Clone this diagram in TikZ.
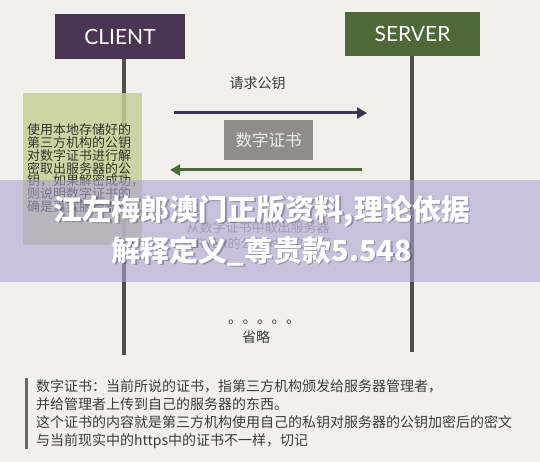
\documentclass[tikz,border=0pt]{standalone}
\usepackage{fontspec}
\setmainfont{Lato}
\newfontfamily\cjk{Noto Sans CJK SC}
\usetikzlibrary{arrows.meta}
\definecolor{bg}{RGB}{241,240,236}
\definecolor{clientc}{RGB}{74,54,82}
\definecolor{serverc}{RGB}{79,104,55}
\definecolor{lifec}{RGB}{84,76,74}
\definecolor{notec}{RGB}{198,206,152}
\definecolor{certc}{RGB}{142,141,139}
\definecolor{arrowp}{RGB}{62,52,80}
\definecolor{arrowg}{RGB}{78,106,58}
\definecolor{bandc}{RGB}{172,162,210}
\definecolor{txtc}{RGB}{60,60,58}
\definecolor{notetxt}{RGB}{52,54,40}
\tikzset{
  actor/.style={minimum width=130pt, minimum height=45pt, inner sep=0pt, text=white,
    font=\fontsize{21}{21}\selectfont},
  life/.style={lifec, line width=4pt},
  msgp/.style={arrowp, line width=3pt, -{Triangle[length=10pt,width=11pt]}},
  msgg/.style={arrowg, line width=3pt, -{Triangle[length=10pt,width=11pt]}},
  lbl/.style={inner sep=0pt, text=txtc, font=\cjk\fontsize{14}{14}\selectfont},
  bandtxt/.style={inner sep=0pt, text=white, font=\cjk\bfseries\fontsize{29}{29}\selectfont},
  shadowtxt/.style={inner sep=0pt, text=black, opacity=0.25, font=\cjk\bfseries\fontsize{29}{29}\selectfont},
  hidden/.style={inner sep=0pt, text=txtc!55, font=\cjk\fontsize{13}{13}\selectfont}
}
\begin{document}
\begin{tikzpicture}[x=1pt,y=-1pt]
\fill[bg] (0,0) rectangle (540,462);
\useasboundingbox (0,0) rectangle (540,462);

% actors
\node[actor, fill=clientc] (client) at (120,36.5) {CLIENT};
\node[actor, fill=serverc, minimum width=135pt, minimum height=44pt] (server) at (412.5,34) {SERVER};

% lifelines
\coordinate (cend) at (124,355);
\coordinate (send) at (412,352);
\draw[life] (client.south -| cend) -- (cend);
\draw[life] (server.south -| send) -- (send);

% note box
\node[fill=notec, fill opacity=0.85, anchor=north west, minimum width=119pt, minimum height=152pt, inner sep=0pt] (note) at (23,93) {};
\node[anchor=north west, align=left, inner sep=0pt, text=notetxt,
  font=\cjk\fontsize{13}{12.8}\selectfont] (notetext) at (27,123.5)
  {使用本地存储好的\\第三方机构的公钥\\对数字证书进行解\\密取出服务器的公\\钥，如果解密成功，\\则说明数字证书的\\确是真实服务器的};

% messages
\node[lbl] (req) at (257.5,83) {请求公钥};
\coordinate (a1s) at (174,113);
\coordinate (a1e) at (367,113);
\draw[msgp] (a1s) -- (a1e);

\node[fill=certc, minimum width=89pt, minimum height=40pt, inner sep=0pt, text={rgb,255:red,236;green,236;blue,234},
  font=\cjk\fontsize{16.5}{16.5}\selectfont] (cert) at (268.5,140) {数字证书};

\coordinate (a2s) at (362,170);
\coordinate (a2e) at (170,170);
\draw[msgg] (a2s) -- (a2e);

% partly hidden text under band
\node[hidden] (h1) at (258,228) {从数字证书中取出服务器};
\node[hidden] (h2) at (256,244) {SERVER的公钥对明文加密};

% overlay band
\fill[bandc, opacity=0.6] (0,180) rectangle (540,282);
\node[shadowtxt] (s1) at (263.5,212.5) {江左梅郎澳门正版资料,理论依据};
\node[shadowtxt] (s2) at (263.5,252.5) {解释定义\_尊贵款5.548};
\node[bandtxt] (w1) at (262,211) {江左梅郎澳门正版资料,理论依据};
\node[bandtxt] (w2) at (262,251) {解释定义\_尊贵款5.548};

% omitted
\node[anchor=base west, inner sep=0pt, text=txtc, font=\cjk\fontsize{14.5}{14.5}\selectfont] (dots) at (228,323) {。。。。。};
\node[lbl] (omit) at (256,337) {省略};

% bottom explanation
\coordinate (bartop) at (26,378);
\coordinate (barbot) at (26,449);
\draw[lifec!85, line width=3pt] (bartop) -- (barbot);
\node[anchor=north west, align=left, inner sep=0pt, text=txtc,
  font=\cjk\fontsize{14}{18.3}\selectfont] (expl) at (36,379)
  {数字证书：当前所说的证书，指第三方机构颁发给服务器管理者，\\并给管理者上传到自己的服务器的东西。\\这个证书的内容就是第三方机构使用自己的私钥对服务器的公钥加密后的密文\\与当前现实中的https中的证书不一样，切记};
\end{tikzpicture}
\end{document}
